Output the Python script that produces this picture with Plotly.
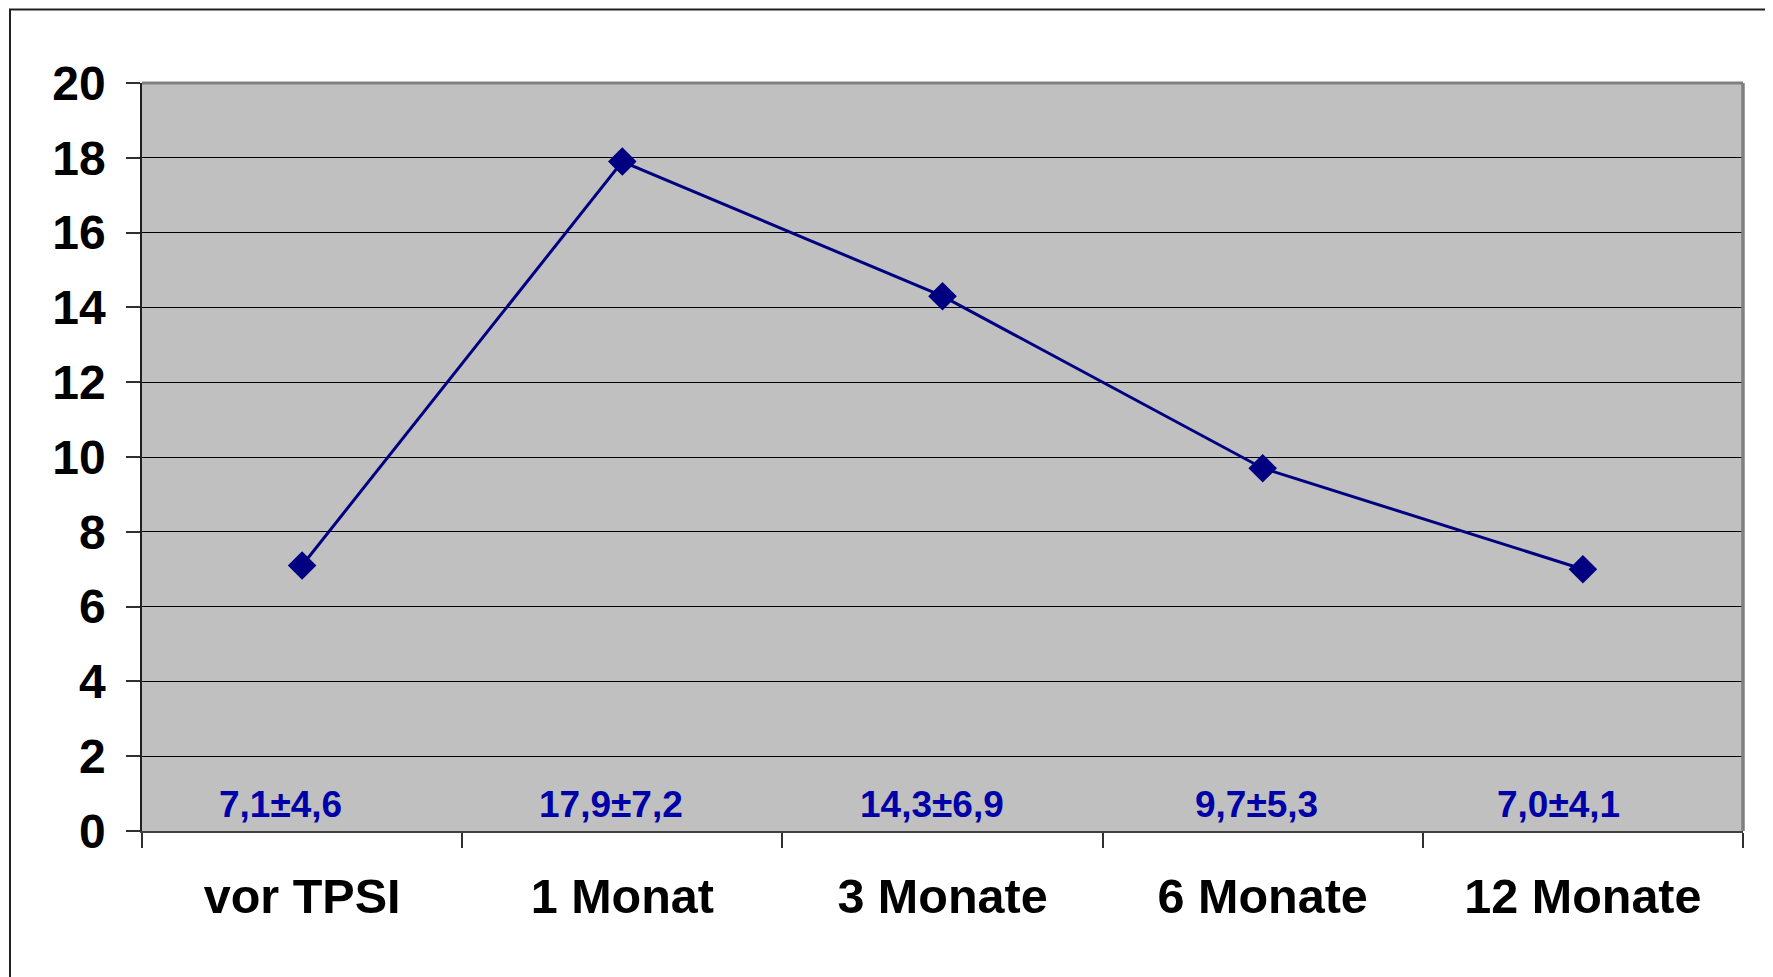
import plotly.graph_objects as go

categories = ["vor TPSI", "1 Monat", "3 Monate", "6 Monate", "12 Monate"]
means = [7.1, 17.9, 14.3, 9.7, 7.0]
sds = [4.6, 7.2, 6.9, 5.3, 4.1]
y_ticks = [0, 2, 4, 6, 8, 10, 12, 14, 16, 18, 20]

# page has an 8px body margin; figure coords = page coords - 8
OFF = 8
W, H = 1773 - OFF, 977 - OFF
L, R, T, B = 142 - OFF, 1743 - OFF, 82.5 - OFF, 831 - OFF

fig = go.Figure()
fig.add_trace(go.Scatter(
    x=categories, y=means, mode="lines+markers",
    line=dict(color="#000080", width=3),
    marker=dict(symbol="diamond", size=22, color="#000080"),
    showlegend=False, hoverinfo="skip",
))

label_shift = [-22, -11, -11, -6, -24]
for i, (c, m, s) in enumerate(zip(categories, means, sds)):
    txt = f"{m:.1f}±{s:.1f}".replace(".", ",")
    fig.add_annotation(
        x=i, y=0.72, xref="x", yref="y", text=txt, showarrow=False,
        xshift=label_shift[i], yanchor="middle",
        font=dict(family="Liberation Sans, Arial", size=37, color="#0000A8", weight="bold"),
    )

pw = R - L
ph = B - T
def px(x):
    return (x - L) / pw
def py(y):
    return (B - y) / ph

# outer frame
fig.add_shape(type="rect", xref="paper", yref="paper",
              x0=px(10 - OFF), x1=px(1800), y0=py(1000), y1=py(1),
              line=dict(color="#202020", width=2), fillcolor="rgba(0,0,0,0)", layer="below")
# plot area top/right border
fig.add_shape(type="line", xref="paper", yref="paper", x0=0, x1=1, y0=1, y1=1,
              line=dict(color="#808080", width=3))
fig.add_shape(type="line", xref="paper", yref="paper", x0=1, x1=1, y0=0, y1=1,
              line=dict(color="#808080", width=3.5))

fig.update_layout(
    width=W, height=H,
    margin=dict(l=L, r=W - R, t=T, b=H - B, pad=0),
    paper_bgcolor="white", plot_bgcolor="#C0C0C0",
    font=dict(family="Liberation Sans, Arial", color="black"),
)
fig.update_xaxes(
    type="category", range=[-0.5, 4.5], tickson="boundaries",
    ticks="outside", ticklen=15, tickcolor="#303030", tickwidth=1.5,
    showgrid=False, showline=True, linecolor="#404040", linewidth=2,
    tickfont=dict(family="Liberation Sans, Arial", size=48.5, color="black", weight="bold"),
    ticklabelstandoff=22, zeroline=False,
)
fig.update_yaxes(
    range=[0, 20], tickvals=y_ticks, ticks="outside", ticklen=14,
    tickcolor="#303030", tickwidth=1.5,
    showgrid=True, gridcolor="#000000", gridwidth=1,
    showline=True, linecolor="#202020", linewidth=1.5, zeroline=False,
    tickfont=dict(family="Liberation Sans, Arial", size=48, color="black", weight="bold"),
    ticklabelstandoff=11,
)

fig.write_html("out.html")
